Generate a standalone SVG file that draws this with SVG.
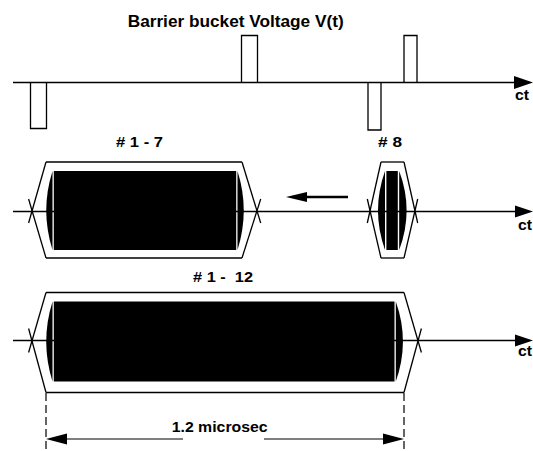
<svg xmlns="http://www.w3.org/2000/svg" width="533" height="451" viewBox="0 0 533 451">
<style>
text{font-family:"Liberation Sans",Arial,sans-serif;font-weight:bold;fill:#000;white-space:pre}
.ln{stroke:#000;stroke-width:1.3;fill:none}
.thin{stroke:#000;stroke-width:1.2;fill:none}
.blk{fill:#000;stroke:none}
.dash{stroke:#000;stroke-width:1.2;stroke-dasharray:8 4;fill:none}
</style>
<rect width="533" height="451" fill="#fff"/>
<g id="title"><text x="127.7" y="26.5" font-size="17" textLength="216" lengthAdjust="spacingAndGlyphs">Barrier bucket Voltage V(t)</text></g>
<g id="connectors">
  <line class="ln" x1="13" y1="82.5" x2="515" y2="82.5"/>
  <polygon class="blk" points="514,76 533,82.5 514,89"/>
  <line class="ln" x1="13" y1="211.5" x2="516" y2="211.5"/>
  <polygon class="blk" points="515,205.5 533,211.5 515,217.5"/>
  <line class="ln" x1="13" y1="340.5" x2="516" y2="340.5"/>
  <polygon class="blk" points="515,334.5 533,340.5 515,346.5"/>
  <line stroke="#000" stroke-width="2.5" x1="348" y1="197" x2="303" y2="197"/>
  <polygon class="blk" points="286,197 307,192 307,202"/>
  <line class="dash" x1="46" y1="393" x2="46" y2="451"/>
  <line class="dash" x1="404" y1="393" x2="404" y2="451"/>
  <line class="thin" x1="66" y1="439" x2="183" y2="439"/>
  <line class="thin" x1="264" y1="439" x2="384" y2="439"/>
  <polygon class="blk" points="46,439 67,433.5 67,444.5"/>
  <polygon class="blk" points="404,439 383,433.5 383,444.5"/>
</g>
<g id="pulses">
  <polyline class="ln" points="30.5,82.5 30.5,128.5 46.5,128.5 46.5,82.5"/>
  <polyline class="ln" points="241.5,82.5 241.5,35.5 257.5,35.5 257.5,82.5"/>
  <polyline class="ln" points="368,82.5 368,130 381,130 381,82.5"/>
  <polyline class="ln" points="404,82.5 404,35.5 417,35.5 417,82.5"/>
</g>
<g id="bunch-1-7">
  <line class="ln" x1="46" y1="162" x2="242" y2="162"/>
  <line class="ln" x1="46" y1="258" x2="242" y2="258"/>
  <line class="ln" x1="46" y1="162" x2="28.6" y2="223"/>
  <line class="ln" x1="46" y1="258" x2="28.6" y2="199"/>
  <line class="ln" x1="242" y1="162" x2="260.7" y2="223"/>
  <line class="ln" x1="242" y1="258" x2="260.7" y2="199"/>
  <path class="blk" d="M52.5,171 Q40,210.5 52.5,250 Z"/>
  <rect class="blk" x="53.8" y="171" width="182.4" height="79"/>
  <path class="blk" d="M237.5,171 Q250,210.5 237.5,250 Z"/>
  <text x="116" y="146.5" font-size="15.5" textLength="47" lengthAdjust="spacingAndGlyphs"># 1 - 7</text>
</g>
<g id="bunch-8">
  <line class="ln" x1="381" y1="162" x2="404" y2="162"/>
  <line class="ln" x1="381" y1="258" x2="404" y2="258"/>
  <line class="ln" x1="381" y1="162" x2="367.3" y2="223"/>
  <line class="ln" x1="381" y1="258" x2="367.3" y2="199"/>
  <line class="ln" x1="404" y1="162" x2="417.7" y2="223"/>
  <line class="ln" x1="404" y1="258" x2="417.7" y2="199"/>
  <path class="blk" d="M385,171 Q371,210.5 385,250 Z"/>
  <rect class="blk" x="386.4" y="171" width="11.4" height="79"/>
  <path class="blk" d="M399.2,171 Q414,210.5 399.2,250 Z"/>
  <text x="378" y="146.5" font-size="15.5" textLength="24" lengthAdjust="spacingAndGlyphs"># 8</text>
</g>
<g id="bunch-1-12">
  <line class="ln" x1="46" y1="292.5" x2="404" y2="292.5"/>
  <line class="ln" x1="46" y1="392.5" x2="404" y2="392.5"/>
  <line class="ln" x1="46" y1="292.5" x2="28.6" y2="352.5"/>
  <line class="ln" x1="46" y1="392.5" x2="28.6" y2="328.5"/>
  <line class="ln" x1="404" y1="292.5" x2="421.4" y2="352.5"/>
  <line class="ln" x1="404" y1="392.5" x2="421.4" y2="328.5"/>
  <path class="blk" d="M52.5,301.5 Q40,341.5 52.5,381.5 Z"/>
  <rect class="blk" x="53.8" y="301.5" width="340.7" height="80"/>
  <path class="blk" d="M395.8,301.5 Q410,341.5 395.8,381.5 Z"/>
  <text x="193" y="282" font-size="15.5" textLength="60" lengthAdjust="spacingAndGlyphs"># 1 -  12</text>
</g>
<g id="labels">
  <text x="515" y="100" font-size="15.5" textLength="14" lengthAdjust="spacingAndGlyphs">ct</text>
  <text x="518" y="230" font-size="15.5" textLength="14" lengthAdjust="spacingAndGlyphs">ct</text>
  <text x="518" y="356" font-size="15.5" textLength="14" lengthAdjust="spacingAndGlyphs">ct</text>
  <text x="171.7" y="431.7" font-size="15.5" textLength="96" lengthAdjust="spacingAndGlyphs">1.2 microsec</text>
</g>
</svg>
